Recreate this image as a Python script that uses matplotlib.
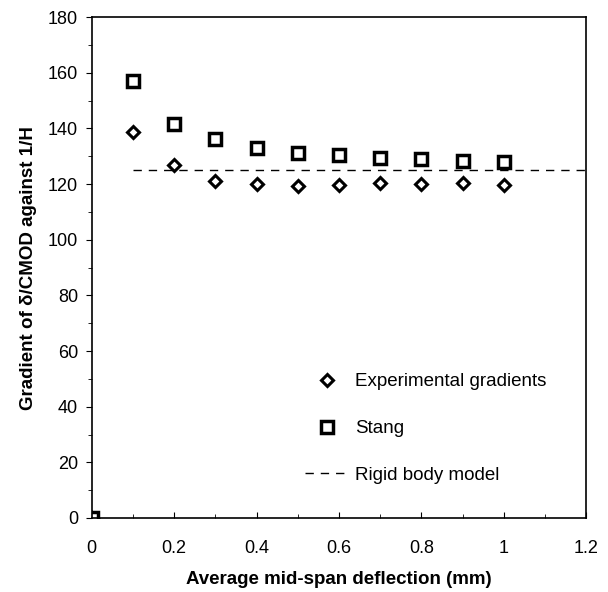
import matplotlib.pyplot as plt
from matplotlib.ticker import MultipleLocator

plt.rcParams['font.family'] = ['Liberation Sans', 'DejaVu Sans']

x = [0, 0.1, 0.2, 0.3, 0.4, 0.5, 0.6, 0.7, 0.8, 0.9, 1.0]
experimental = [0, 138.6, 127.0, 121.2, 119.9, 119.5, 119.8, 120.4, 119.9, 120.3, 119.6]
stang = [0, 157.0, 141.6, 136.1, 132.8, 131.3, 130.4, 129.5, 129.0, 128.3, 128.0]
rigid_x = [0.1, 1.2]
rigid_y = [125, 125]

fig = plt.figure(figsize=(6.08, 5.92), dpi=100)
ax = fig.add_axes([0.151, 0.125, 0.813, 0.846])

ax.plot(x, experimental, linestyle='none', marker='D', markersize=6,
        markerfacecolor='white', markeredgecolor='black', markeredgewidth=2.2,
        label='Experimental gradients')
ax.plot(x, stang, linestyle='none', marker='s', markersize=9,
        markerfacecolor='white', markeredgecolor='black', markeredgewidth=2.5,
        label='Stang')
ax.plot(rigid_x, rigid_y, linestyle=(0, (6, 5)), color='black', linewidth=1,
        label='Rigid body model')

ax.set_xlim(0, 1.2)
ax.set_ylim(0, 180)
ax.xaxis.set_major_locator(MultipleLocator(0.2))
ax.xaxis.set_minor_locator(MultipleLocator(0.1))
ax.yaxis.set_major_locator(MultipleLocator(20))
ax.yaxis.set_minor_locator(MultipleLocator(10))
ax.set_xticks([0, 0.2, 0.4, 0.6, 0.8, 1.0, 1.2])
ax.set_xticklabels(['0', '0.2', '0.4', '0.6', '0.8', '1', '1.2'])
ax.tick_params(axis='x', which='both', direction='in', labelsize=13, pad=16)
ax.tick_params(axis='y', which='both', direction='out', labelsize=13, pad=6)
ax.tick_params(which='major', length=4)
ax.tick_params(which='minor', length=3)

for s in ax.spines.values():
    s.set_linewidth(1.2)

ax.set_xlabel('Average mid-span deflection (mm)', fontsize=13.5, fontweight='bold', labelpad=10)
ax.set_ylabel('Gradient of δ/CMOD against 1/H', fontsize=13.5, fontweight='bold', labelpad=8)

leg = ax.legend(loc='lower left', bbox_to_anchor=(0.431, 0.068), frameon=False,
                fontsize=13.5, labelspacing=1.58, handlelength=2.4, handletextpad=0.3,
                borderpad=0, borderaxespad=0)

fig.savefig('out.png', dpi=100)
